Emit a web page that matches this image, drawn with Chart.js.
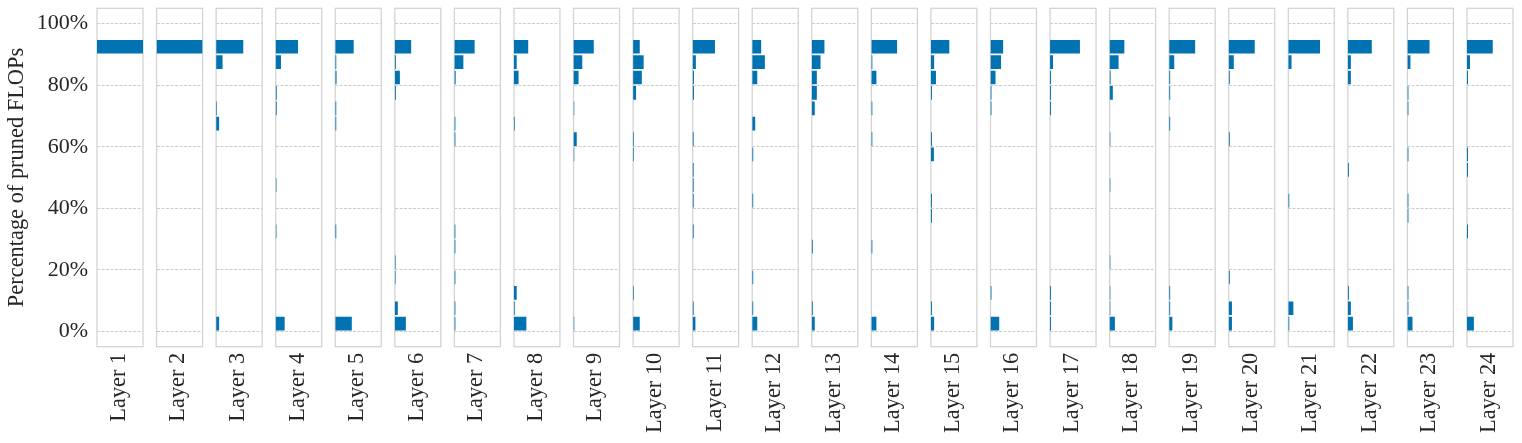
<!DOCTYPE html>
<html>
<head>
<meta charset="utf-8">
<script src="https://cdn.jsdelivr.net/npm/chart.js@4.4.0/dist/chart.umd.min.js"></script>
<style>
  html, body { margin: 0; padding: 0; background: #fff; }
  #wrap { position: relative; width: 1522px; height: 443px; }
  #wrap canvas { position: absolute; top: 0; }
</style>
</head>
<body>
<div id="wrap"></div>
<script>
// panels
const LAYERS = ['Layer 1', 'Layer 2', 'Layer 3', 'Layer 4', 'Layer 5', 'Layer 6', 'Layer 7', 'Layer 8',
  'Layer 9', 'Layer 10', 'Layer 11', 'Layer 12', 'Layer 13', 'Layer 14', 'Layer 15', 'Layer 16',
  'Layer 17', 'Layer 18', 'Layer 19', 'Layer 20', 'Layer 21', 'Layer 22', 'Layer 23', 'Layer 24'];

// histogram bins (centre of each 5% bin, 0-5% ... 90-95%)
const BIN_CENTERS = [2.5, 7.5, 12.5, 17.5, 22.5, 27.5, 32.5, 37.5, 42.5, 47.5,
  52.5, 57.5, 62.5, 67.5, 72.5, 77.5, 82.5, 87.5, 92.5];
const Y_TICKS = [0, 20, 40, 60, 80, 100];

// counts per bin (share of panel width), low bin first
const L1  = [0, 0, 0, 0, 0, 0, 0, 0, 0, 0, 0, 0, 0, 0, 0, 0, 0, 0, 100];
const L2  = [0, 0, 0, 0, 0, 0, 0, 0, 0, 0, 0, 0, 0, 0, 0, 0, 0, 0, 100];
const L3  = [6.5, 0, 0, 0, 0, 0, 0, 0, 0, 0, 0, 0, 0, 6.5, 1.6, 0, 0, 14, 59];
const L4  = [19.5, 0, 0, 0, 0, 0, 1.6, 0, 0, 1.6, 0, 0, 0, 0, 2.2, 2.2, 0, 11.5, 48.5];
const L5  = [36, 0, 0, 0, 0, 0, 2.2, 0, 0, 0, 0, 0, 0, 2.2, 2.2, 0, 2.8, 2.2, 40];
const L6  = [24, 6.5, 0, 1.6, 1.6, 0, 0, 0, 0, 0, 0, 0, 0, 0, 0, 2.2, 11, 2.2, 35.5];
const L7  = [2.2, 2.2, 0, 2.2, 0, 2.2, 2.2, 0, 0, 0, 0, 0, 2.2, 2.2, 0, 0, 2.8, 19.5, 44];
const L8  = [27, 1.6, 6, 0, 0, 0, 0, 0, 0, 0, 0, 0, 0, 1.6, 0, 0, 10, 6, 31];
const L9  = [1.6, 0, 0, 0, 0, 0, 0, 0, 0, 0, 0, 1.6, 7, 0, 1.6, 0, 11, 19, 44];
const L10 = [14.5, 0, 1.6, 0, 0, 0, 0, 0, 0, 0, 0, 1.6, 1.6, 0, 0, 6.5, 19, 23, 14.5];
const L11 = [6, 2.2, 0, 0, 0, 0, 2.2, 0, 2.2, 2.2, 2.2, 0, 2.2, 0, 0, 2.8, 2.8, 7, 48.5];
const L12 = [11, 2.2, 0, 2.2, 0, 0, 0, 0, 2.2, 0, 0, 2.2, 0, 6.5, 0, 0, 11, 27.5, 19.5];
const L13 = [6.5, 2.2, 0, 0, 0, 2.2, 0, 0, 0, 0, 0, 0, 0, 0, 6.5, 11, 11, 19, 27.5];
const L14 = [11, 0, 0, 0, 0, 2.2, 0, 0, 0, 0, 0, 0, 2.2, 0, 2.2, 0, 11, 2.2, 56];
const L15 = [7, 2.2, 0, 0, 0, 0, 0, 2.2, 2.2, 0, 0, 6.5, 2.2, 0, 0, 2.2, 11, 7, 40];
const L16 = [19, 0, 2.2, 0, 0, 0, 0, 0, 0, 0, 0, 0, 0, 0, 2.2, 2.2, 11, 23, 27.5];
const L17 = [2.2, 2.2, 2.2, 0, 0, 0, 0, 0, 0, 0, 0, 0, 0, 0, 2.2, 2.2, 2.2, 6.5, 65];
const L18 = [11.5, 1.6, 1.6, 0, 1.6, 0, 0, 0, 0, 1.6, 0, 0, 1.6, 0, 0, 7, 2.2, 19.5, 32];
const L19 = [7, 2.2, 2.2, 0, 0, 0, 0, 0, 0, 0, 0, 0, 0, 2.2, 0, 2.2, 2.2, 11, 56.5];
const L20 = [7, 7, 0, 2.2, 0, 0, 0, 0, 0, 0, 0, 0, 2.2, 0, 0, 0, 2.2, 11, 56.5];
const L21 = [2.2, 11, 0, 0, 0, 0, 0, 0, 2.2, 0, 0, 0, 0, 0, 0, 0, 0, 7, 69];
const L22 = [11, 6.5, 2.2, 0, 0, 0, 0, 0, 0, 0, 2.2, 0, 0, 0, 0, 0, 6.5, 6.5, 52];
const L23 = [11, 2.2, 2.2, 0, 0, 0, 0, 2.2, 2.2, 0, 0, 2.2, 0, 0, 2.2, 2.2, 0, 6.5, 48];
const L24 = [15, 0, 0, 0, 0, 0, 2.2, 0, 0, 0, 2.2, 2.2, 0, 0, 0, 0, 2.2, 6.5, 56];

const HIST = [L1, L2, L3, L4, L5, L6, L7, L8, L9, L10, L11, L12,
  L13, L14, L15, L16, L17, L18, L19, L20, L21, L22, L23, L24];

const BLUE = '#0173B2';
const TEXT = '#262626';
const FONT = '"Liberation Serif", "Times New Roman", Times, serif';

// layout of the panel grid
const PANEL_LEFT = 97;
const PANEL_STEP = 59.565;
const PANEL_W = 46;
const AREA_TOP = 8.3;
const AREA_BOTTOM = 346.7;
const H = 443;
const EXTRA = 4;

// light grey box round each panel, under the bars so thin bars stay visible
const framePlugin = {
  id: 'frame',
  beforeDatasetsDraw(chart) {
    const { ctx, chartArea: a } = chart;
    ctx.save();
    ctx.strokeStyle = '#d2d2d2';
    ctx.lineWidth = 1.25;
    ctx.strokeRect(a.left, a.top, a.right - a.left, a.bottom - a.top);
    ctx.restore();
  }
};

const labelPlugin = {
  id: 'layerLabel',
  afterDraw(chart, args, opts) {
    const { ctx, chartArea: a } = chart;
    ctx.save();
    ctx.translate((a.left + a.right) / 2 - 1, a.bottom + 6);
    ctx.rotate(-Math.PI / 2);
    ctx.textAlign = 'right';
    ctx.textBaseline = 'middle';
    ctx.fillStyle = TEXT;
    ctx.font = '22.4px ' + FONT;
    ctx.fillText(opts.text, 0, 0);
    ctx.restore();
  }
};

const wrap = document.getElementById('wrap');

HIST.forEach((counts, k) => {
  const first = k === 0;
  const panelLeft = PANEL_LEFT + k * PANEL_STEP;
  const canvasLeft = first ? 0 : Math.floor(panelLeft) - EXTRA;
  const inner = panelLeft - canvasLeft;
  const width = Math.ceil(inner + PANEL_W + EXTRA);

  const canvas = document.createElement('canvas');
  canvas.width = width;
  canvas.height = H;
  canvas.style.left = canvasLeft + 'px';
  wrap.appendChild(canvas);

  new Chart(canvas, {
    type: 'bar',
    data: {
      datasets: [{
        data: BIN_CENTERS.map((y, i) => ({ x: counts[i], y })),
        backgroundColor: BLUE,
        borderWidth: 0,
        barPercentage: 0.89,
        categoryPercentage: 1
      }]
    },
    options: {
      indexAxis: 'y',
      responsive: false,
      animation: false,
      devicePixelRatio: 1,
      layout: {
        autoPadding: false,
        padding: {
          left: first ? 0 : inner,
          right: width - inner - PANEL_W,
          top: AREA_TOP,
          bottom: H - AREA_BOTTOM
        }
      },
      plugins: {
        legend: { display: false },
        tooltip: { enabled: false },
        layerLabel: { text: LAYERS[k] }
      },
      scales: {
        x: { type: 'linear', display: false, min: 0, max: 100 },
        y: {
          type: 'linear',
          offset: false,
          min: -5,
          max: 105,
          afterBuildTicks: s => { s.ticks = Y_TICKS.map(v => ({ value: v })); },
          afterFit: s => {
            s.width = first ? panelLeft : 0;
            s.paddingTop = 0;
            s.paddingBottom = 0;
          },
          grid: { color: '#cccccc', lineWidth: 1, drawTicks: false, offset: false },
          border: { display: false, dash: [3, 1.5] },
          ticks: {
            display: first,
            padding: 9,
            color: TEXT,
            font: { family: FONT, size: 22 },
            callback: v => v + '%'
          },
          title: {
            display: first,
            text: 'Percentage of pruned FLOPs',
            color: TEXT,
            font: { family: FONT, size: 22.4 },
            padding: { top: 4, bottom: 0 }
          }
        }
      }
    },
    plugins: [framePlugin, labelPlugin]
  });
});
</script>
</body>
</html>
